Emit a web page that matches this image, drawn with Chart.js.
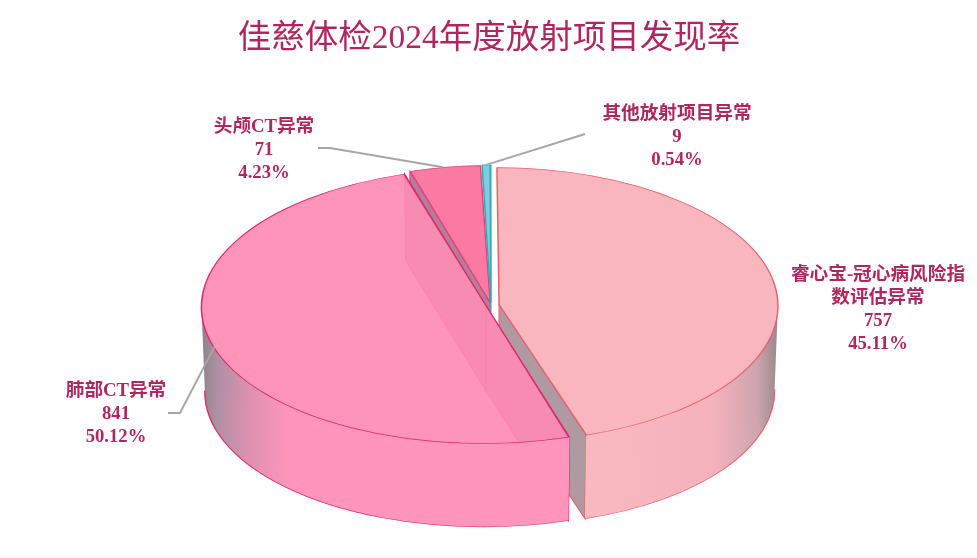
<!DOCTYPE html>
<html>
<head>
<meta charset="utf-8">
<style>html,body{margin:0;padding:0;background:#fff}canvas{display:block}</style>
<script src="https://cdn.jsdelivr.net/npm/chart.js@4"></script>
</head>
<body>
<canvas id="c" width="977" height="558"></canvas>
<script>
const titleText = '佳慈体检2024年度放射项目发现率';
const categories = ['睿心宝-冠心病风险指数评估异常', '肺部CT异常', '头颅CT异常', '其他放射项目异常'];
const values = [757, 841, 71, 9];
const categoryLines = [['睿心宝-冠心病风险指', '数评估异常'], ['肺部CT异常'], ['头颅CT异常'], ['其他放射项目异常']];
const labelX = [878, 116, 264, 677];
const labelY = [275, 391, 127, 114];
const leaderTail = [null, [[180, 413], [168, 413]], [[330, 148], [318, 148]], [[585, 134]]];

const topColors = ['rgba(250,176,186,0.92)', 'rgba(255,139,180,0.92)', '#FB7AA3', '#7CCFE0'];
const edgeColors = ['#E8606F', '#E0286E', '#E8407F', '#35A9B8'];
const wallColors = ['#B09AA2', '#A08A98', '#B08096', '#2FA9B7'];
const paintOrder = [2, 3, 0, 1];
const textColor = '#B0265E';
const FONT = '"Liberation Serif","Noto Sans CJK SC",serif';
const squash = 0.484, depth = 85, bottomShrink = 0.988, shiftX = 3, sliceOffset = 20.6;
// small per-slice corrections that stand in for the original's perspective projection
const sliceNudgeX = [2, -1, -1, -1];
const sliceShear = [0.02, -0.02, 0, 0];
const sliceWidth = [0.985, 1, 0.96, 1];

function geom(el) {
  const off = (el.options.offset || 0) / 4;
  const mid = (el.startAngle + el.endAngle) / 2;
  const fix = 1 - Math.sin(Math.min(Math.PI, el.circumference));
  return {
    x: el.x + Math.cos(mid) * off,
    y: el.y + Math.sin(mid) * off,
    r: el.outerRadius + off * fix,
    mid
  };
}
function radialWall(ctx, g, angle, lean, fill, stroke) {
  const d = depth / squash;
  const px = g.x + Math.cos(angle) * g.r, py = g.y + Math.sin(angle) * g.r;
  const qx = g.x + lean + Math.cos(angle) * g.r * bottomShrink, qy = g.y + d + Math.sin(angle) * g.r * bottomShrink;
  ctx.beginPath();
  ctx.moveTo(g.x, g.y); ctx.lineTo(px, py); ctx.lineTo(qx, qy); ctx.lineTo(g.x + lean, g.y + d);
  ctx.closePath();
  ctx.fillStyle = fill; ctx.fill();
  ctx.strokeStyle = stroke; ctx.lineWidth = 1.2; ctx.stroke();
}
function rimWall(ctx, g, a0, a1, lean, fill, stroke) {
  const s = Math.max(a0, 0), e = Math.min(a1, Math.PI);
  if (e <= s) return;
  const d = depth / squash;
  ctx.beginPath();
  ctx.arc(g.x, g.y, g.r, s, e);
  ctx.arc(g.x + lean, g.y + d, g.r * bottomShrink, e, s, true);
  ctx.closePath();
  ctx.fillStyle = fill; ctx.fill();
  ctx.beginPath();
  ctx.arc(g.x + lean, g.y + d, g.r * bottomShrink, e, s, true);
  ctx.strokeStyle = stroke; ctx.lineWidth = 1.4; ctx.stroke();
}
function rimGradient(ctx, i, g) {
  const gr = ctx.createLinearGradient(g.x - g.r, 0, g.x + g.r, 0);
  if (i === 0) {
    gr.addColorStop(0.6, '#FBB9C2'); gr.addColorStop(0.88, '#F4B2BC');
    gr.addColorStop(0.96, '#CDA5AE'); gr.addColorStop(1, '#96868C');
  } else {
    gr.addColorStop(0, '#8E8088'); gr.addColorStop(0.03, '#AE90A2');
    gr.addColorStop(0.09, '#E090B0'); gr.addColorStop(0.16, '#FF95BB'); gr.addColorStop(1, '#FF95BB');
  }
  return gr;
}
const pie3d = {
  id: 'pie3d',
  beforeDatasetDraw(chart) {
    const ctx = chart.ctx, els = chart.getDatasetMeta(0).data;
    const cy = els[0].y;
    paintOrder.forEach(i => {
      const el = els[i], g = geom(el), a0 = el.startAngle, a1 = el.endAngle;
      const stroke = edgeColors[i];
      const lean = -sliceShear[i] * depth;
      ctx.save();
      ctx.translate(shiftX + sliceNudgeX[i], cy);
      ctx.transform(1, 0, sliceShear[i], 1, 0, 0);
      ctx.scale(1, squash);
      ctx.translate(g.x, -cy);
      ctx.scale(sliceWidth[i], 1);
      ctx.translate(-g.x, 0);
      if (i === 1) {
        radialWall(ctx, g, a1, lean, wallColors[1], stroke);
        radialWall(ctx, g, a0, lean, wallColors[1], stroke);
        rimWall(ctx, g, a0, a1, lean, rimGradient(ctx, 1, g), stroke);
      } else if (i === 0) {
        radialWall(ctx, g, a1, lean, wallColors[0], stroke);
        rimWall(ctx, g, a0, a1, lean, rimGradient(ctx, 0, g), stroke);
      } else if (i === 2) {
        radialWall(ctx, g, a0, lean, wallColors[2], stroke);
      } else {
        radialWall(ctx, g, a1, lean, wallColors[3], stroke);
      }
      el.draw(ctx);
      ctx.restore();
    });
    return false;
  },
  afterDraw(chart) {
    const ctx = chart.ctx, els = chart.getDatasetMeta(0).data;
    const cy = els[0].y;
    const total = values.reduce((a, b) => a + b, 0);
    ctx.save();
    els.forEach((el, i) => {
      const tail = leaderTail[i];
      if (!tail) return;
      const g = geom(el);
      const ax = g.x + Math.cos(g.mid) * g.r + shiftX + sliceNudgeX[i];
      const ay = cy + (g.y + Math.sin(g.mid) * g.r - cy) * squash;
      ctx.beginPath(); ctx.moveTo(ax, ay);
      tail.forEach(p => ctx.lineTo(p[0], p[1]));
      ctx.strokeStyle = '#A6A6A6'; ctx.lineWidth = 2; ctx.stroke();
    });
    ctx.fillStyle = textColor;
    ctx.font = '600 18.67px ' + FONT;
    ctx.textAlign = 'center'; ctx.textBaseline = 'middle';
    els.forEach((el, i) => {
      const lines = categoryLines[i].concat([String(values[i]), (values[i] / total * 100).toFixed(2) + '%']);
      lines.forEach((t, n) => ctx.fillText(t, labelX[i], labelY[i] + n * 23));
    });
    ctx.restore();
  }
};
new Chart(document.getElementById('c'), {
  type: 'pie',
  data: {
    labels: categories,
    datasets: [{
      data: values,
      backgroundColor: topColors,
      borderColor: edgeColors,
      borderWidth: 1.5,
      offset: sliceOffset
    }]
  },
  plugins: [pie3d],
  options: {
    responsive: false,
    animation: false,
    radius: 279.5,
    layout: { padding: { left: 1, right: 0, top: 0, bottom: 7.2 } },
    plugins: {
      legend: { display: false },
      tooltip: { enabled: false },
      title: {
        display: true,
        text: titleText,
        color: textColor,
        font: { family: FONT, size: 33.5, weight: 'normal' },
        padding: { top: 19, bottom: 0 }
      }
    }
  }
});
</script>
</body>
</html>
